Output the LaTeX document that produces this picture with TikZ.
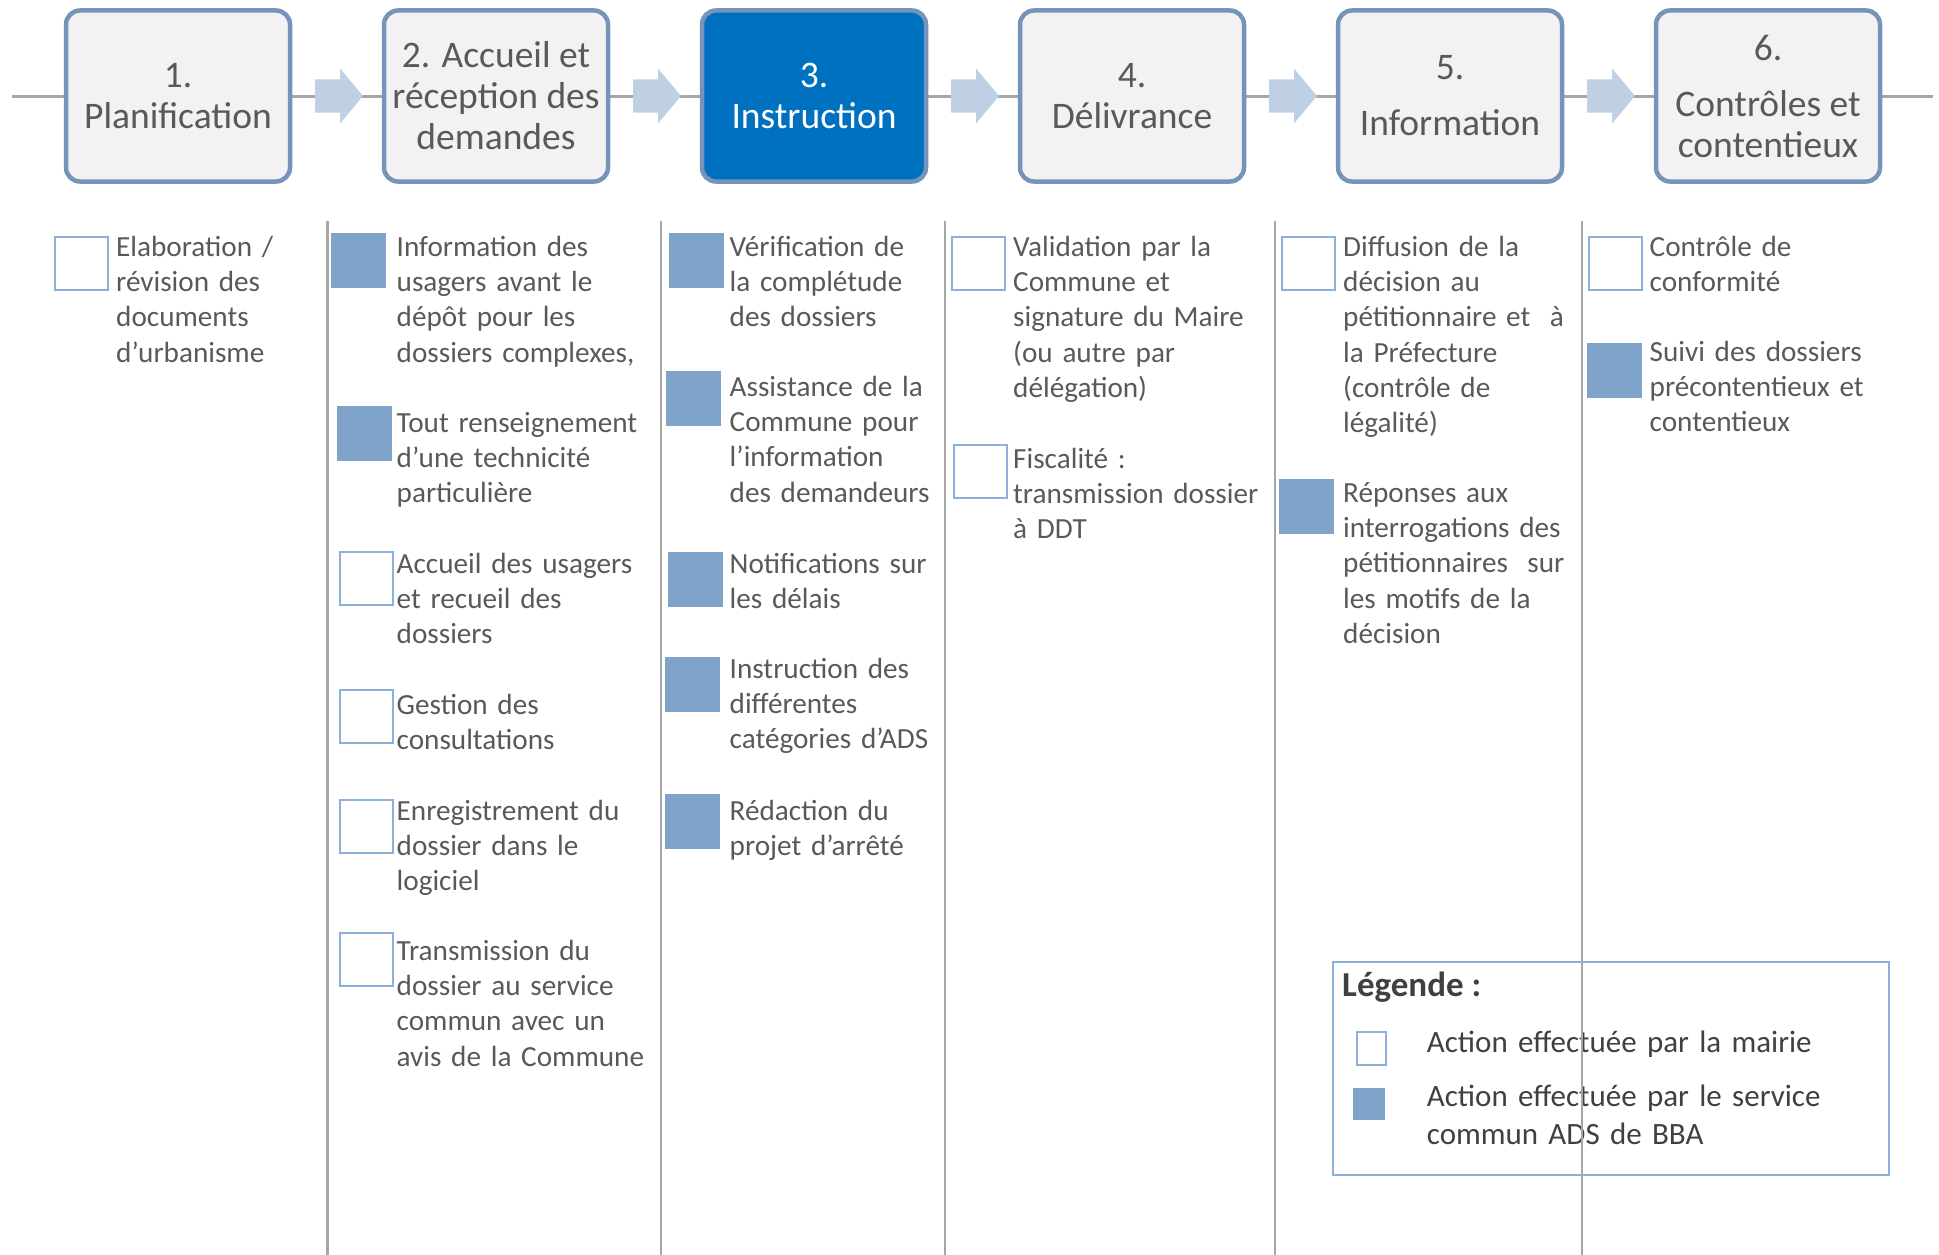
\documentclass[tikz,border=0pt]{standalone}
\usepackage{fontspec}
\setmainfont{Carlito}
\usepackage{xcolor}
\definecolor{cadre}{HTML}{7494BB}
\definecolor{fond}{HTML}{F2F2F2}
\definecolor{actif}{HTML}{0070C0}
\definecolor{flechefond}{HTML}{BFD0E4}
\definecolor{ads}{HTML}{7FA3C9}
\definecolor{mairie}{HTML}{8DB0DA}
\definecolor{trait}{HTML}{A6A6A6}
\definecolor{gristexte}{HTML}{595959}
\definecolor{noir}{HTML}{404040}
\usetikzlibrary{positioning,calc}

\begin{document}
\begin{tikzpicture}[x=1pt,y=-1pt,
  etape/.style={draw=cadre,line width=4.5pt,fill=fond,rounded corners=14pt,minimum width=224pt,minimum height=171pt,align=center,text=gristexte,font=\fontsize{37.5}{41}\selectfont,inner sep=0pt},
  fleche/.style={fill=flechefond},
  caseads/.style={fill=ads,minimum size=55pt,inner sep=0pt,anchor=north west},
  casemairie/.style={draw=mairie,line width=2pt,fill=white,minimum size=53pt,inner sep=0pt,anchor=north west},
  action/.style={anchor=base west,text width=330pt,align=left,inner sep=0pt,text=gristexte,font=\fontsize{29.2}{35.2}\selectfont},
  legendetexte/.style={action,text width=480pt,text=noir,font=\fontsize{31}{38}\selectfont},
  separateur/.style={draw=trait,line width=2.7pt}]
  \useasboundingbox (0,0) rectangle (1939,1255);
  % ligne du processus
  \coordinate (g) at (12,96);
  \coordinate (d) at (1933,96);
  \draw[trait,line width=3pt] (g) -- (d);
  % etapes
  \node[etape] (e1) at (178,96) {1.\\Planification};
  \node[etape,right=89.5pt of e1] (e2) {2. Accueil et\\réception des\\demandes};
  \node[etape,right=89.5pt of e2,fill=actif,text=white] (e3) {3.\\Instruction};
  \node[etape,right=89.5pt of e3] (e4) {4.\\Délivrance};
  \node[etape,right=89.5pt of e4] (e5) {5.\\[15pt]Information};
  \node[etape,right=89.5pt of e5] (e6) {6.\\[15pt]Contrôles et\\contentieux};
  \foreach \a/\b [count=\i] in {e1/e2,e2/e3,e3/e4,e4/e5,e5/e6} {
    \coordinate (m\i) at ($(\a.east)!0.5!(\b.west)$);
    \fill[fleche] (m\i) ++(-22,-16.5) -- ++(25,0) -- ++(0,-11) -- ++(23,27.5) -- ++(-23,27.5) -- ++(0,-11) -- ++(-25,0) -- cycle;
  }

  % colonne 1
  \node[casemairie] (s1a) at (54,236) {};
  \node[action] (t1a) at (116,256.5) {Elaboration /\\révision des\\documents\\d’urbanisme};
  % colonne 2
  \node[caseads] (s2a) at (331,233) {};
  \node[action] (t2a) at (396.5,256.5) {Information des\\usagers avant le\\dépôt pour les\\dossiers complexes,};
  \node[caseads] (s2b) at (337,406) {};
  \node[action] (t2b) at (396.5,432.5) {Tout renseignement\\d’une technicité\\particulière};
  \node[casemairie] (s2c) at (339,551) {};
  \node[action] (t2c) at (396.5,573.5) {Accueil des usagers\\et recueil des\\dossiers};
  \node[casemairie] (s2d) at (339,689) {};
  \node[action] (t2d) at (396.5,714.5) {Gestion des\\consultations};
  \node[casemairie] (s2e) at (339,799) {};
  \node[action] (t2e) at (396.5,820.5) {Enregistrement du\\dossier dans le\\logiciel};
  \node[casemairie] (s2f) at (339,932) {};
  \node[action] (t2f) at (396.5,960.5) {Transmission du\\dossier au service\\commun avec un\\avis de la Commune};
  % colonne 3
  \node[caseads] (s3a) at (669,233) {};
  \node[action] (t3a) at (729.5,256.5) {Vérification de\\la complétude\\des dossiers};
  \node[caseads] (s3b) at (666,371) {};
  \node[action] (t3b) at (729.5,396.5) {Assistance de la\\Commune pour\\l’information\\des demandeurs};
  \node[caseads] (s3c) at (668,552) {};
  \node[action] (t3c) at (729.5,573.5) {Notifications sur\\les délais};
  \node[caseads] (s3d) at (665,657) {};
  \node[action] (t3d) at (729.5,678.5) {Instruction des\\différentes\\catégories d’ADS};
  \node[caseads] (s3e) at (665,794) {};
  \node[action] (t3e) at (729.5,820.5) {Rédaction du\\projet d’arrêté};
  % colonne 4
  \node[casemairie] (s4a) at (951,236) {};
  \node[action] (t4a) at (1013,256.5) {Validation par la\\Commune et\\signature du Maire\\(ou autre par\\délégation)};
  \node[casemairie] (s4b) at (953,444) {};
  \node[action] (t4b) at (1013,468.5) {Fiscalité :\\transmission dossier\\à DDT};
  % colonne 5
  \node[casemairie] (s5a) at (1281,236) {};
  \node[action] (t5a) at (1343,256.5) {Diffusion de la\\décision au\\pétitionnaire et\ \ à\\la Préfecture\\(contrôle de\\légalité)};
  \node[caseads] (s5b) at (1279,479) {};
  \node[action] (t5b) at (1343,502.5) {Réponses aux\\interrogations des\\pétitionnaires\ \ sur\\les motifs de la\\décision};
  % colonne 6
  \node[casemairie] (s6a) at (1588,236) {};
  \node[action] (t6a) at (1649.5,256.5) {Contrôle de\\conformité};
  \node[caseads] (s6b) at (1587,343) {};
  \node[action] (t6b) at (1649.5,361.5) {Suivi des dossiers\\précontentieux et\\contentieux};

  % legende
  \node[draw=mairie,line width=2pt,minimum width=556pt,minimum height=213pt,inner sep=0pt,anchor=north west] (legende) at (1332,961) {};
  \node[anchor=base west,inner sep=0pt,text=noir,font=\fontsize{35}{40}\selectfont\bfseries] (titre) at (1342,996) {Légende :};
  \node[casemairie,minimum width=29pt,minimum height=33pt] (lm) at (1355.7,1031) {};
  \node[caseads,minimum size=32pt] (la) at (1353,1087.7) {};
  \node[legendetexte] (tlm) at (1426.7,1052.7) {Action effectuée par la mairie};
  \node[legendetexte] (tla) at (1426.7,1106.7) {Action effectuée par le service\\commun ADS de BBA};

  % separateurs
  \foreach \x in {327.3,661,945,1275,1582} \draw[separateur] (\x,221) -- (\x,1255);
\end{tikzpicture}
\end{document}
